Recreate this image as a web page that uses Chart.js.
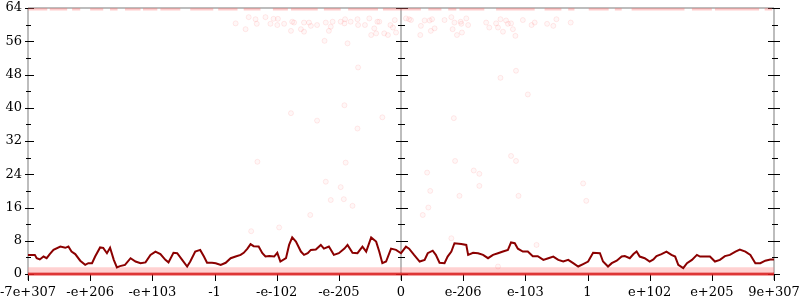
<!DOCTYPE html>
<html><head><meta charset="utf-8">
<script src="https://cdn.jsdelivr.net/npm/chart.js@4/dist/chart.umd.min.js"></script>
<style>html,body{margin:0;padding:0;background:#fff}#wrap{width:800px;height:300px}</style>
</head><body><div id="wrap"><canvas id="c" width="800" height="300"></canvas></div>
<script>
// ---- data ----
const xTickLabels = ['-7e+307','-e+206','-e+103','-1','-e-102','-e-205','0','e-206','e-103','1','e+102','e+205','9e+307'];
const xMin = -6, xMax = 6, yMin = 0, yMax = 64;

const lineX = [-6.00,-5.89,-5.86,-5.81,-5.75,-5.70,-5.65,-5.59,-5.48,-5.40,-5.35,-5.30,-5.24,-5.16,-5.08,-5.03,-4.97,-4.92,-4.84,-4.79,-4.73,-4.68,-4.62,-4.57,-4.52,-4.44,-4.35,-4.27,-4.19,-4.11,-4.03,-3.95,-3.87,-3.79,-3.74,-3.66,-3.60,-3.52,-3.44,-3.39,-3.31,-3.23,-3.17,-3.12,-3.04,-2.98,-2.90,-2.82,-2.74,-2.66,-2.58,-2.53,-2.47,-2.42,-2.37,-2.29,-2.23,-2.18,-2.12,-2.04,-1.99,-1.94,-1.85,-1.80,-1.75,-1.69,-1.61,-1.56,-1.50,-1.45,-1.37,-1.29,-1.24,-1.16,-1.08,-1.00,-0.91,-0.86,-0.78,-0.70,-0.62,-0.56,-0.48,-0.40,-0.35,-0.30,-0.24,-0.16,-0.08,0.00,0.08,0.13,0.21,0.30,0.38,0.43,0.51,0.56,0.62,0.70,0.75,0.81,0.86,0.97,1.05,1.08,1.16,1.24,1.32,1.40,1.48,1.56,1.64,1.72,1.77,1.83,1.88,1.96,2.04,2.12,2.20,2.29,2.37,2.45,2.53,2.61,2.69,2.77,2.85,2.93,3.01,3.09,3.20,3.25,3.33,3.39,3.47,3.55,3.60,3.68,3.74,3.79,3.84,3.92,4.00,4.06,4.11,4.19,4.27,4.35,4.41,4.46,4.54,4.60,4.68,4.76,4.81,4.89,4.97,5.05,5.13,5.21,5.29,5.38,5.45,5.54,5.62,5.70,5.78,5.86,5.94,6.00];
const lineY = [4.6,4.6,3.8,3.5,4.2,3.8,4.8,5.8,6.6,6.3,6.6,5.4,4.8,3.2,2.2,2.6,2.6,4.2,6.4,6.3,5.0,6.3,3.4,1.6,1.9,2.2,3.8,3.0,2.6,2.8,4.6,5.4,4.8,3.4,2.8,5.1,5.0,3.4,1.8,3.0,5.4,5.8,4.2,2.7,2.7,2.6,2.2,2.7,3.8,4.2,4.6,5.1,6.1,7.2,6.7,6.6,5.0,4.2,4.3,4.2,5.1,3.0,3.8,7.0,8.8,7.8,5.4,4.6,5.0,5.8,5.9,7.0,6.1,6.6,4.6,5.0,6.1,7.0,5.1,5.0,6.6,5.4,8.8,7.8,5.4,2.6,3.0,6.1,5.8,5.0,6.6,6.1,4.6,3.0,3.4,5.0,5.6,4.6,2.7,2.6,4.2,5.4,7.4,7.2,7.0,4.6,5.1,5.0,4.6,3.8,4.6,5.0,5.4,5.8,7.6,7.4,6.1,5.4,5.4,4.3,4.3,3.4,3.8,4.2,3.4,3.0,3.4,2.6,1.8,2.4,3.0,5.1,5.0,3.0,1.8,2.6,3.2,4.2,4.3,3.8,4.8,5.4,4.2,3.8,3.0,3.5,4.3,4.8,5.4,4.6,4.2,2.2,1.4,2.6,3.4,4.6,4.2,4.2,4.2,3.0,3.4,4.3,4.6,5.4,5.9,5.4,4.6,2.6,2.6,3.2,3.5,3.5];

const scatterX = [-2.66,-2.50,-2.45,-2.34,-2.32,-2.18,-2.10,-2.05,-1.98,-1.99,-1.88,-1.77,-1.75,-1.72,-1.61,-1.56,-1.56,-1.48,-1.45,-1.35,-1.23,-1.21,-1.16,-1.13,-1.10,-0.97,-0.91,-0.90,-0.86,-0.81,-0.70,-0.69,-0.69,-0.58,-0.51,-0.48,-0.43,-0.40,-0.38,-0.35,-0.27,-0.21,-0.17,-0.13,-0.10,-0.08,-0.91,-1.77,-1.35,-0.70,-0.30,0.08,0.13,0.16,0.32,0.31,0.38,0.46,0.50,0.48,0.54,0.70,0.81,0.83,0.86,0.90,0.96,0.97,0.98,1.05,1.08,1.37,1.42,1.53,1.56,1.60,1.64,1.69,1.72,1.77,1.80,1.84,1.96,2.10,2.15,2.35,2.45,2.50,2.73,1.85,1.60,2.04,0.85,-2.31,-0.89,-1.21,-0.97,-1.13,-0.92,-0.78,-1.46,-1.96,-2.41,1.77,1.85,0.87,0.42,1.17,1.26,0.47,1.26,0.94,1.89,2.93,2.98,0.44,0.35,0.81,2.18,1.56];
const scatterY = [60.3,58.9,61.8,61.3,60.2,61.8,60.2,61.4,61.4,59.9,60.2,58.5,60.7,60.5,58.9,58.3,60.5,60.5,59.7,59.9,56.1,60.5,58.5,59.5,60.7,60.7,60.3,61.3,55.5,60.7,61.3,59.9,49.7,59.9,61.5,57.5,59.1,57.9,60.7,60.7,57.9,57.5,59.9,59.3,61.1,58.1,40.6,38.7,36.9,35.0,37.7,61.5,61.3,61.1,59.7,57.5,61.0,61.0,61.3,58.5,59.1,61.1,61.8,58.9,60.5,57.5,60.7,60.2,58.1,61.5,59.9,60.5,59.3,60.3,59.3,61.3,58.3,61.0,60.2,60.3,58.9,57.3,61.1,59.9,60.5,60.2,59.7,61.3,60.5,48.9,47.2,43.2,37.5,27.0,26.8,22.2,20.9,17.8,18.0,16.4,14.2,11.2,10.3,28.4,27.2,27.2,24.4,24.9,24.1,20.0,21.2,18.8,18.8,21.8,17.6,16.0,14.2,8.6,7.0,1.8];

// dense runs of points along y = 64 (start, end of each run)
const topRunStarts = [-6.00,-5.65,-5.29,-5.00,-4.68,-4.44,-4.15,-3.87,-3.39,-2.94,-2.53,-2.06,-1.77,-1.24,-0.85,-0.29,0.44,0.76,0.94,1.53,2.31,2.69,3.02,3.44,3.71,4.68,5.05,5.85];
const topRunEnds   = [-5.69,-5.37,-5.16,-4.79,-4.56,-4.19,-3.92,-3.55,-3.02,-2.63,-2.26,-1.82,-1.34,-0.97,-0.37,0.32,0.65,0.89,1.34,2.15,2.58,2.79,3.34,3.55,4.56,5.00,5.76,5.97];
const topRunY = 64;
// dense bands of points at y = 1 and y = 0 across the whole range
const bandLevels = [1, 0];

// ---- build datasets ----
const lineData = lineX.map((x, i) => ({x, y: lineY[i]}));
const scatterData = scatterX.map((x, i) => ({x, y: scatterY[i]}));
const topData = [];
topRunStarts.forEach((s, i) => {
  topData.push({x: s, y: topRunY}, {x: topRunEnds[i], y: topRunY}, {x: topRunEnds[i], y: null});
});
const bandData = bandLevels.map(v => [{x: xMin, y: v}, {x: xMax, y: v}]);

const FONT = {family: "'DejaVu Serif', serif", size: 13};

const axesPlugin = {
  id: 'axesPlugin',
  beforeDatasetsDraw(chart) {
    const {ctx} = chart;
    const xs = chart.scales.x, ys = chart.scales.y;
    const top = ys.getPixelForValue(yMax), bottom = ys.getPixelForValue(yMin);
    const left = xs.getPixelForValue(xMin), right = xs.getPixelForValue(xMax), mid = xs.getPixelForValue(0);
    ctx.save();
    ctx.strokeStyle = '#bdbdbd';
    ctx.lineWidth = 2;
    ctx.beginPath();
    [left, mid, right].forEach(px => { ctx.moveTo(px, top); ctx.lineTo(px, bottom + 6); });
    ctx.moveTo(left, top); ctx.lineTo(right, top);
    ctx.moveTo(left, bottom); ctx.lineTo(right, bottom);
    ctx.stroke();

    ctx.strokeStyle = '#000';
    ctx.lineWidth = 1;
    ctx.beginPath();
    const specs = [
      {px: left,  maj: [-3, 6], min: [-2, 3]},
      {px: mid,   maj: [-5, 7], min: [-3, 4]},
      {px: right, maj: [-6, 6], min: [-2, 4]}
    ];
    for (let v = yMin; v <= yMax; v += 4) {
      const py = Math.round(ys.getPixelForValue(v)) + 0.5;
      const major = v % 8 === 0;
      specs.forEach(s => {
        const r = major ? s.maj : s.min;
        ctx.moveTo(s.px + r[0], py); ctx.lineTo(s.px + r[1], py);
      });
    }
    for (let v = xMin; v <= xMax; v += 1) {
      const px = Math.round(xs.getPixelForValue(v)) + 0.5;
      ctx.moveTo(px, bottom); ctx.lineTo(px, bottom + 7);
    }
    ctx.stroke();
    ctx.restore();
  }
};

const noPad = s => { s.paddingLeft = 0; s.paddingRight = 0; s.paddingTop = 0; s.paddingBottom = 0; };

new Chart(document.getElementById('c'), {
  type: 'scatter',
  data: {
    datasets: [
      {data: lineData, showLine: true, borderColor: '#8b0000', borderWidth: 2, pointRadius: 0, tension: 0},
      {data: scatterData, pointRadius: 2.5, borderWidth: 1, backgroundColor: 'rgba(255,90,90,0.05)', borderColor: 'rgba(255,90,90,0.12)'},
      {data: topData, showLine: true, spanGaps: false, borderColor: 'rgba(255,110,110,0.35)', borderWidth: 5, pointRadius: 0, clip: 0},
      {data: bandData[1], showLine: true, borderColor: 'rgba(228,30,30,0.85)', borderWidth: 3, pointRadius: 0, clip: 3},
      {data: bandData[0], showLine: true, borderColor: 'rgba(255,140,140,0.4)', borderWidth: 5, pointRadius: 0}
    ]
  },
  options: {
    responsive: false,
    animation: false,
    events: [],
    layout: {padding: {top: 8, right: 26, left: 0, bottom: 0}},
    plugins: {legend: {display: false}, tooltip: {enabled: false}},
    scales: {
      x: {
        type: 'linear', min: xMin, max: xMax,
        grid: {display: false, drawTicks: false},
        border: {display: false},
        afterFit: s => { s.height = 26; noPad(s); },
        ticks: {stepSize: 1, autoSkip: false, maxRotation: 0, padding: 11, color: '#000', font: FONT,
          callback: v => xTickLabels[Math.round(v) - xMin]}
      },
      y: {
        type: 'linear', min: yMin, max: yMax,
        grid: {display: false, drawTicks: false},
        border: {display: false},
        afterFit: s => { s.width = 28; noPad(s); },
        ticks: {stepSize: 8, padding: 6, color: '#000', font: FONT}
      }
    }
  },
  plugins: [axesPlugin]
});
</script></body></html>
